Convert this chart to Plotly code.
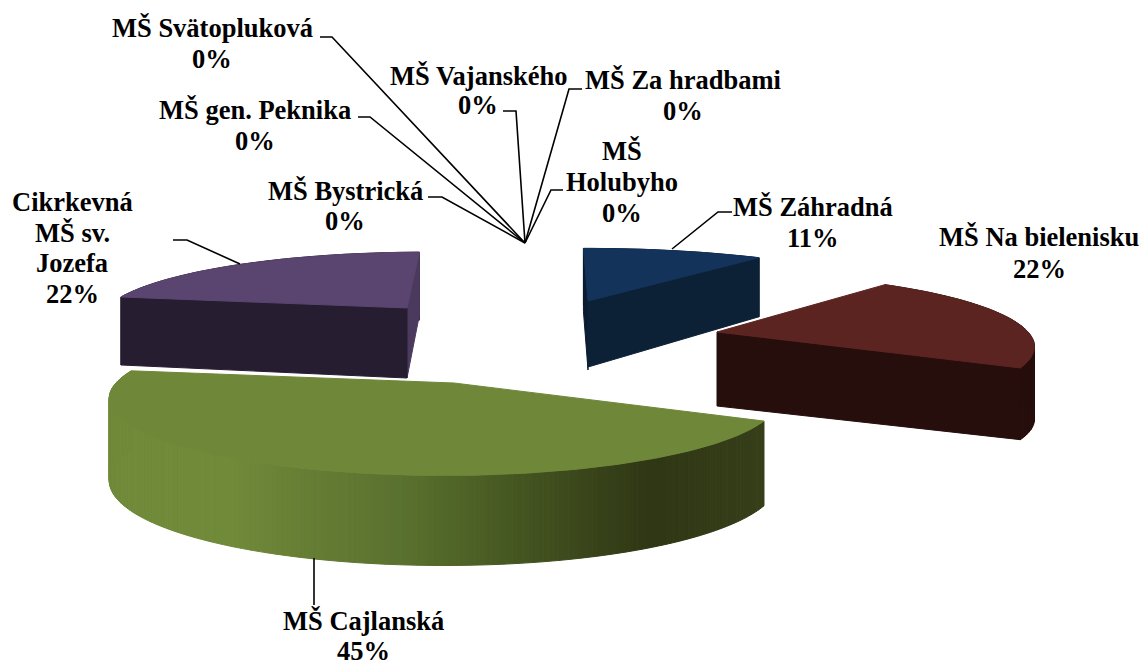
import math
import plotly.graph_objects as go

# ---------- data ----------
slice_names = ["MŠ Záhradná", "MŠ Na bielenisku", "MŠ Cajlanská", "Cikrkevná<br>MŠ sv.<br>Jozefa"]
slice_values = [11, 22, 45, 22]
zero_names = ["MŠ Holubyho", "MŠ Za hradbami", "MŠ Vajanského", "MŠ Svätopluková", "MŠ gen. Peknika", "MŠ Bystrická"]
zero_values = [0, 0, 0, 0, 0, 0]

# ---------- 3-D look of each exploded slice (style, not data) ----------
ROTATION = -1.0
GEOM = {  # tip, arc centre, rx, ry, perspective, depth, depth slope
    0: dict(tip=(588, 301), c=(588, 301), rx=337, ry=68, p=.293, h=66, hs=-9),
    1: dict(tip=(717, 332), c=(717, 332), rx=311, ry=70, p=.2, h=74, hs=5),
    2: dict(tip=(454, 383), c=(444, 383), rx=328, ry=74, p=.2, h=80, hs=-10),
    3: dict(tip=(407, 308), c=(424, 308), rx=318, ry=67, p=.2, h=68, hs=0),
}
TOP = ["#13335a", "#5c2421", "#6f8739", "#5a4570"]
SIDE = ["#0c2036", "#260e0c", "#323a17", "#261d30"]
SLIVER = ["#0b1c30", None, None, "#4b3a5e"]
GREEN_STOPS = [(108, (112, 138, 58)), (235, (112, 138, 58)), (300, (103, 127, 53)), (400, (90, 114, 47)),
               (480, (76, 95, 37)), (560, (63, 76, 30)), (650, (47, 55, 20)), (765, (55, 63, 27))]
TEXT_FONT = dict(family="Liberation Serif", size=26.5, color="black")

fig = go.Figure()


def poly(xs, ys, color):
    fig.add_trace(go.Scatter(x=list(xs), y=list(ys), mode="lines", fill="toself", fillcolor=color,
                             line=dict(color=color, width=1), hoverinfo="skip", showlegend=False))


def top_pt(g, a):
    r = math.radians(a)
    X, Y = math.sin(r), math.cos(r)
    s = 1 / (1 + g["p"] * Y)
    return g["c"][0] + g["rx"] * X * s, g["c"][1] - g["ry"] * Y * s


def depth(g, a):
    return g["h"] + g["hs"] * math.cos(math.radians(a))


def green_at(x):
    for (x0, c0), (x1, c1) in zip(GREEN_STOPS, GREEN_STOPS[1:]):
        if x <= x1:
            t = max(0, (x - x0) / (x1 - x0))
            return "rgb(%d,%d,%d)" % tuple(c0[k] + (c1[k] - c0[k]) * t for k in range(3))
    return "rgb(%d,%d,%d)" % GREEN_STOPS[-1][1]


total = sum(slice_values)
spans = []
a = ROTATION
for v in slice_values:
    spans.append((a, a + 360 * v / total))
    a += 360 * v / total

for i in [0, 3, 1, 2]:
    g = GEOM[i]
    a0, a1 = spans[i]
    n = max(2, int((a1 - a0) / (0.75 if i == 2 else 2)))
    angs = [a0 + (a1 - a0) * k / n for k in range(n + 1)]
    arc = [top_pt(g, t) for t in angs]
    tip = g["tip"]
    h_tip = g["h"]
    # outer rim
    for k in range(n):
        p, q = arc[k], arc[k + 1]
        dp, dq = depth(g, angs[k]), depth(g, angs[k + 1])
        col = green_at((p[0] + q[0]) / 2) if i == 2 else SIDE[i]
        poly([p[0], q[0], q[0], p[0], p[0]], [p[1], q[1], q[1] + dq, p[1] + dp, p[1]], col)
    # radial cut faces that can be seen
    if i == 0:
        s = arc[0]
        poly([s[0], tip[0], tip[0], s[0], s[0]], [s[1], tip[1], tip[1] + 69, s[1] + 63, s[1]], SLIVER[i])
    if i == 3:
        e = arc[-1]
        poly([e[0], tip[0], tip[0], e[0], e[0]], [e[1], tip[1], tip[1] + h_tip + 2, e[1] + 63, e[1]], SLIVER[i])
    if i in (0, 1):
        e, da = arc[-1], depth(g, a1)
        poly([tip[0], e[0], e[0], tip[0], tip[0]], [tip[1], e[1], e[1] + da, tip[1] + h_tip, tip[1]], SIDE[i])
    if i == 3:
        s, da = arc[0], depth(g, a0)
        poly([s[0], tip[0], tip[0], s[0], s[0]], [s[1], tip[1], tip[1] + h_tip + 2, s[1] + da, s[1]], SIDE[i])
    # top face
    poly([tip[0]] + [p[0] for p in arc] + [tip[0]], [tip[1]] + [p[1] for p in arc] + [tip[1]], TOP[i])

# ---------- leader lines ----------
HUB = (525, 243)
LEADERS = [
    [(320, 37), (332, 37), HUB], [(358, 117), (370, 117), HUB], [(428, 197), (442, 197), HUB],
    [(503, 111), (516, 111), HUB], [(582, 89), (569, 89), HUB], [(563, 190), (551, 190), HUB],
    [(732, 212), (718, 212), (672, 249)], [(173, 240), (187, 240), (240, 264)], [(314, 605), (314, 558)],
]
for pts in LEADERS:
    fig.add_trace(go.Scatter(x=[p[0] for p in pts], y=[p[1] for p in pts], mode="lines",
                             line=dict(color="black", width=1.6), hoverinfo="skip", showlegend=False))

# ---------- labels ----------
label_lines = {
    "MŠ Záhradná": (813, 207, 31), "MŠ Na bielenisku": (1039, 237, 32), "MŠ Cajlanská": (363, 621, 30),
    "Cikrkevná<br>MŠ sv.<br>Jozefa": (72, 202, 30.5), "MŠ Holubyho": (622, 151, 31),
    "MŠ Za hradbami": (683, 80, 31), "MŠ Vajanského": (478, 76, 29), "MŠ Svätopluková": (212, 28, 31),
    "MŠ gen. Peknika": (255, 110, 31), "MŠ Bystrická": (345, 191, 30),
}
for name, v in zip(slice_names + zero_names, slice_values + zero_values):
    cx, y0, gap = label_lines[name]
    parts = name.split("<br>")
    if name == "MŠ Holubyho":
        parts = ["MŠ", "Holubyho"]
    for k, txt in enumerate(parts + [f"{v}%"]):
        fig.add_annotation(x=cx, y=y0 + gap * k, text=f"<b>{txt}</b>", showarrow=False, xanchor="center",
                           yanchor="middle", font=TEXT_FONT)

fig.update_layout(width=1142, height=664, margin=dict(l=0, r=0, t=0, b=0), paper_bgcolor="white",
                  plot_bgcolor="white", showlegend=False,
                  xaxis=dict(range=[0, 1142], visible=False, fixedrange=True),
                  yaxis=dict(range=[664, 0], visible=False, fixedrange=True))
fig.write_html("out.html", config={"displayModeBar": False},
               post_script="document.body.style.margin='0';document.body.style.overflow='hidden';")
